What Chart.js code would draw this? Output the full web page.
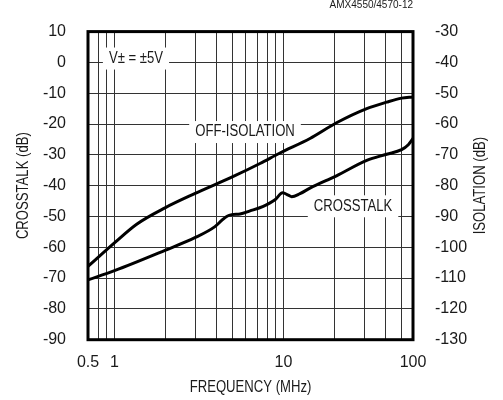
<!DOCTYPE html>
<html><head><meta charset="utf-8">
<script src="https://cdn.jsdelivr.net/npm/chart.js@4/dist/chart.umd.min.js"></script>
<style>html,body{margin:0;padding:0;background:#fff}</style>
</head><body>
<canvas id="c" width="503" height="400"></canvas>
<script>
// ---- data ----
const offIsoFreq = [0.697, 1.007, 1.353, 1.99, 2.98, 5.05, 7.26, 9.53, 14.35, 20.6, 31.1, 40.8, 50.0, 58.4];
const offIsoDb   = [-66.2, -58.4, -52.5, -47.2, -42.6, -37.0, -32.8, -29.4, -24.7, -19.6, -15.0, -12.9, -11.6, -11.2];
const xtalkFreq  = [0.697, 1.0, 1.99, 2.99, 3.93, 4.31, 4.61, 4.94, 5.53, 6.34, 7.59, 8.91, 9.89, 10.68, 11.18, 12.52, 14.35, 20.6, 31.1, 40.8, 50.0, 54.8, 58.4];
const xtalkDb    = [-70.6, -67.6, -61.0, -56.9, -53.3, -51.3, -50.0, -49.4, -49.2, -48.2, -46.7, -44.6, -42.3, -43.1, -43.6, -42.6, -40.8, -36.8, -31.8, -29.8, -28.3, -26.7, -24.7];

// ---- axes ----
const xMin = 0.697, xMax = 58.4;
const xGridValues = [0.8, 0.9, 1, 2, 3, 4, 5, 6, 7, 8, 9, 10, 20, 30, 40, 50];
const xLabelValues = [xMin, 1, 10, xMax];
const xLabelTexts  = ['0.5', '1', '10', '100'];
const leftTicks  = [10, 0, -10, -20, -30, -40, -50, -60, -70, -80, -90];
const rightTicks = [-30, -40, -50, -60, -70, -80, -90, -100, -110, -120, -130];
const xTitle = 'FREQUENCY (MHz)';
const yTitle = 'CROSSTALK (dB)';
const y2Title = 'ISOLATION (dB)';

// ---- annotations ----
const noteTexts = ['V\u00B1 = \u00B15V', 'OFF-ISOLATION', 'CROSSTALK'];
const noteX = [1.34, 5.92, 25.8];
const noteY = [1.26, -22.6, -46.7];

const FAM = "'Liberation Sans', Arial, sans-serif";
const TXT = '#1a1a1a';
const font16 = {family: FAM, size: 16};
const GRID = '#333';
const NARROW = 0.82;

function narrowText(ctx, t, x, y, rot) {
  ctx.save();
  ctx.translate(x, y);
  if (rot) ctx.rotate(rot);
  ctx.scale(NARROW, 1);
  ctx.fillText(t, 0, 0);
  ctx.restore();
}

const notePlugin = {
  id: 'notes',
  beforeDatasetsDraw(chart) {
    const {ctx, scales} = chart;
    ctx.save();
    ctx.font = "16px " + FAM;
    ctx.textAlign = 'center';
    ctx.textBaseline = 'middle';
    noteTexts.forEach((t, i) => {
      const px = scales.x.getPixelForValue(noteX[i]);
      const py = scales.y.getPixelForValue(noteY[i]);
      const w = ctx.measureText(t).width * NARROW;
      ctx.fillStyle = '#fff';
      ctx.fillRect(px - w / 2 - 6, py - 11, w + 12, 22);
      ctx.fillStyle = TXT;
      narrowText(ctx, t, px, py, 0);
    });
    ctx.restore();
  },
  afterDatasetsDraw(chart) {
    const {ctx, chartArea: a} = chart;
    ctx.save();
    ctx.strokeStyle = '#000';
    ctx.lineWidth = 3;
    ctx.strokeRect(a.left, a.top, a.right - a.left, a.bottom - a.top);
    ctx.fillStyle = TXT;
    ctx.textBaseline = 'middle';
    ctx.font = "10px " + FAM;
    ctx.textAlign = 'right';
    ctx.fillText('AMX4550/4570-12', a.right, 5);
    ctx.font = "16px " + FAM;
    ctx.textAlign = 'center';
    const cy = (a.top + a.bottom) / 2;
    narrowText(ctx, yTitle, 24, cy, -Math.PI / 2);
    narrowText(ctx, y2Title, 481, cy, -Math.PI / 2);
    narrowText(ctx, xTitle, (a.left + a.right) / 2, 388, 0);
    ctx.restore();
  }
};

new Chart(document.getElementById('c'), {
  type: 'line',
  data: {
    datasets: [
      {label: 'OFF-ISOLATION', data: offIsoFreq.map((f, i) => ({x: f, y: offIsoDb[i]})),
       borderColor: '#000', borderWidth: 3, pointRadius: 0, cubicInterpolationMode: 'monotone', yAxisID: 'y'},
      {label: 'CROSSTALK', data: xtalkFreq.map((f, i) => ({x: f, y: xtalkDb[i]})),
       borderColor: '#000', borderWidth: 3, pointRadius: 0, cubicInterpolationMode: 'monotone', yAxisID: 'y'}
    ]
  },
  options: {
    responsive: false, animation: false, devicePixelRatio: 1,
    layout: {padding: {top: 13.5, left: 0, right: 0, bottom: 0}},
    plugins: {legend: {display: false}, tooltip: {enabled: false}},
    scales: {
      x: {
        type: 'logarithmic', position: 'bottom', min: xMin, max: xMax,
        afterBuildTicks: s => { s.ticks = [xMin, ...xGridValues, xMax].map(v => ({value: v})); },
        ticks: {autoSkip: false, maxRotation: 0, padding: 13, font: font16, color: TXT,
          callback: (v) => { const i = xLabelValues.findIndex(q => Math.abs(q - v) < 1e-9); return i >= 0 ? xLabelTexts[i] : ''; }},
        grid: {color: GRID, lineWidth: 1, drawTicks: false},
        border: {display: false},
        title: {display: false},
        afterFit: s => { s.height = 60.3; }
      },
      y: {
        type: 'linear', position: 'left', min: -90, max: 10,
        afterBuildTicks: s => { s.ticks = leftTicks.map(v => ({value: v})); },
        ticks: {padding: 22, font: font16, color: TXT},
        grid: {color: GRID, lineWidth: 1, drawTicks: false},
        border: {display: false},
        title: {display: false},
        afterFit: s => { s.width = 88; }
      },
      y2: {
        type: 'linear', position: 'right', min: -130, max: -30,
        afterBuildTicks: s => { s.ticks = rightTicks.map(v => ({value: v})); },
        ticks: {padding: 22, font: font16, color: TXT},
        grid: {display: false, drawTicks: false},
        border: {display: false},
        title: {display: false},
        afterFit: s => { s.width = 90; }
      }
    }
  },
  plugins: [notePlugin]
});
</script>
</body></html>
